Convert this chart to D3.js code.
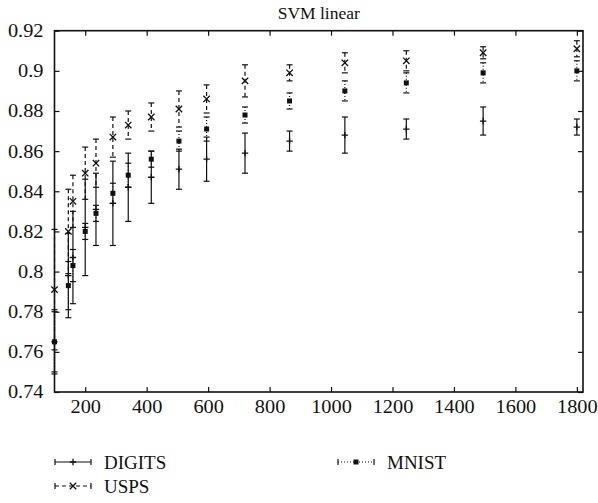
<!DOCTYPE html>
<html><head><meta charset="utf-8">
<script src="https://cdn.jsdelivr.net/npm/d3@7"></script>
<style>
html,body{margin:0;padding:0;background:#fff;}
svg{display:block;}
svg text{font-family:"Liberation Serif","DejaVu Serif",serif !important;fill:#111;}
</style></head>
<body><svg id="chart" width="598" height="503"></svg>
<script>
// ---- data ----
const title = "SVM linear";
const sizes = [100,145,160,200,235,290,340,415,505,595,720,865,1045,1245,1495,1800];
const digitsMean = [0.765,0.798,0.807,0.822,0.831,0.834,0.842,0.847,0.851,0.856,0.859,0.865,0.868,0.871,0.875,0.872];
const digitsErr  = [0.016,0.021,0.023,0.024,0.018,0.021,0.017,0.013,0.010,0.011,0.010,0.005,0.009,0.005,0.007,0.004];
const uspsMean   = [0.791,0.820,0.835,0.849,0.854,0.867,0.873,0.877,0.881,0.886,0.895,0.899,0.904,0.905,0.909,0.911];
const uspsErr    = [0.030,0.021,0.013,0.013,0.012,0.010,0.007,0.007,0.009,0.007,0.008,0.004,0.005,0.005,0.003,0.004];
const mnistMean  = [0.765,0.793,0.803,0.820,0.829,0.839,0.848,0.856,0.865,0.871,0.878,0.885,0.890,0.894,0.899,0.900];
const mnistErr   = [0.015,0.012,0.008,0.004,0.004,0.005,0.006,0.004,0.005,0.006,0.004,0.004,0.005,0.005,0.005,0.005];
const xTicks = [200,400,600,800,1000,1200,1400,1600,1800];
const yTicks = [0.74,0.76,0.78,0.8,0.82,0.84,0.86,0.88,0.9,0.92];
const seriesNames = ["DIGITS","USPS","MNIST"];

// ---- layout ----
const svg = d3.select("#chart");
const pL = 54.5, pR = 583, pT = 30.7, pB = 392;
const x = d3.scaleLinear().domain([100,1820]).range([pL,pR]);
const y = d3.scaleLinear().domain([0.74,0.92]).range([pB,pT]);
const fsTick = 18.5, fsTitle = 17.5, fsLegend = 19, stretch = 1.1;

const series = [
  {name:seriesNames[0], mean:digitsMean, err:digitsErr, dash:null, marker:"plus"},
  {name:seriesNames[1], mean:uspsMean, err:uspsErr, dash:"4,3", marker:"cross"},
  {name:seriesNames[2], mean:mnistMean, err:mnistErr, dash:"1,2", marker:"square"}
];

// axes
const fmt = d => String(+d.toFixed(2));
svg.append("g").attr("transform",`translate(0,${pB})`)
  .call(d3.axisBottom(x).tickValues(xTicks).tickSize(-5).tickPadding(8).tickFormat(d3.format("d")))
  .call(g=>{g.select(".domain").remove();g.selectAll("line").attr("stroke","#111").attr("stroke-width",1.2);
    g.selectAll("text").attr("font-size",fsTick).attr("fill","#111").attr("transform",`scale(${stretch},1)`);});
svg.append("g").attr("transform",`translate(0,${pT})`)
  .call(d3.axisTop(x).tickValues(xTicks).tickSize(-5).tickFormat(""))
  .call(g=>{g.select(".domain").remove();g.selectAll("line").attr("stroke","#111").attr("stroke-width",1.2);});
svg.append("g").attr("transform",`translate(${pL},0)`)
  .call(d3.axisLeft(y).tickValues(yTicks).tickSize(-5).tickPadding(11).tickFormat(fmt))
  .call(g=>{g.select(".domain").remove();g.selectAll("line").attr("stroke","#111").attr("stroke-width",1.2);
    g.selectAll("text").attr("font-size",fsTick).attr("fill","#111")
      .attr("transform",`scale(${stretch},1)`).attr("x",-11/stretch);});
svg.append("g").attr("transform",`translate(${pR},0)`)
  .call(d3.axisRight(y).tickValues(yTicks).tickSize(-5).tickFormat(""))
  .call(g=>{g.select(".domain").remove();g.selectAll("line").attr("stroke","#111").attr("stroke-width",1.2);});
svg.append("rect").attr("x",pL).attr("y",pT).attr("width",pR-pL).attr("height",pB-pT)
  .attr("fill","none").attr("stroke","#111").attr("stroke-width",1.6);

svg.append("text").attr("x",(pL+pR)/2).attr("y",19).attr("text-anchor","middle")
  .attr("font-size",fsTitle).text(title);

// markers
function drawMarker(g, type, cx, cy){
  const s = 3.2;
  if(type==="plus"){
    g.append("path").attr("d",`M${cx-s},${cy}H${cx+s}M${cx},${cy-s}V${cy+s}`).attr("stroke","#111").attr("stroke-width",1.3);
  } else if(type==="cross"){
    g.append("path").attr("d",`M${cx-s},${cy-s}L${cx+s},${cy+s}M${cx-s},${cy+s}L${cx+s},${cy-s}`).attr("stroke","#111").attr("stroke-width",1.3);
  } else {
    g.append("rect").attr("x",cx-2.5).attr("y",cy-2.5).attr("width",5).attr("height",5).attr("fill","#111");
  }
}
function errBar(g, sx, y1, y2, dash, cap){
  g.append("line").attr("x1",sx).attr("x2",sx).attr("y1",y1).attr("y2",y2)
    .attr("stroke","#111").attr("stroke-width",1.2).attr("stroke-dasharray",dash);
  [y1,y2].forEach(yy=>g.append("line").attr("x1",sx-cap).attr("x2",sx+cap).attr("y1",yy).attr("y2",yy)
    .attr("stroke","#111").attr("stroke-width",1.2));
}

const plot = svg.append("g");
series.forEach(s=>{
  const g = plot.append("g");
  sizes.forEach((v,i)=>{
    const sx = x(v);
    errBar(g, sx, y(s.mean[i]+s.err[i]), y(s.mean[i]-s.err[i]), s.dash, 3);
    drawMarker(g, s.marker, sx, y(s.mean[i]));
  });
});

// legend
const legendPos = [{x:55,y:462},{x:55,y:486},{x:338,y:462}];
series.forEach((s,i)=>{
  const p = legendPos[i];
  const g = svg.append("g");
  g.append("line").attr("x1",p.x).attr("x2",p.x+36).attr("y1",p.y).attr("y2",p.y)
    .attr("stroke","#111").attr("stroke-width",1.2).attr("stroke-dasharray",s.dash);
  [p.x,p.x+36].forEach(xx=>g.append("line").attr("x1",xx).attr("x2",xx).attr("y1",p.y-3).attr("y2",p.y+3)
    .attr("stroke","#111").attr("stroke-width",1.2));
  drawMarker(g, s.marker, p.x+18, p.y);
  g.append("text").attr("x",p.x+49).attr("y",p.y).attr("dy","0.35em")
    .attr("font-size",fsLegend).text(s.name);
});
</script></body></html>
